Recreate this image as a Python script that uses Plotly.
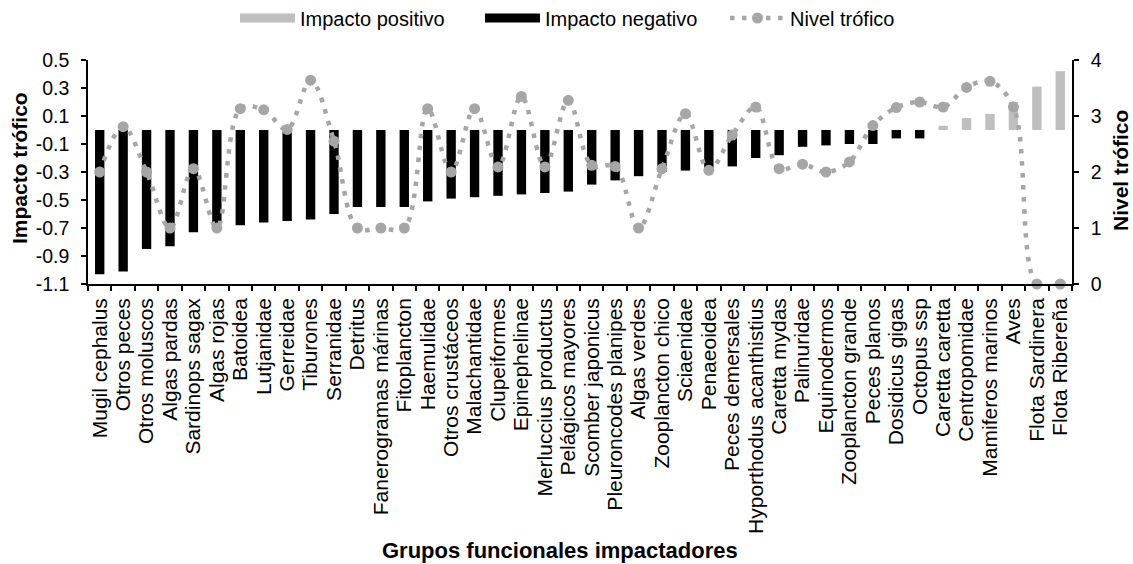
import plotly.graph_objects as go

categorias = [
    "Mugil cephalus", "Otros peces", "Otros moluscos", "Algas pardas", "Sardinops sagax",
    "Algas rojas", "Batoidea", "Lutjanidae", "Gerreidae", "Tiburones", "Serranidae",
    "Detritus", "Fanerogramas márinas", "Fitoplancton", "Haemulidae", "Otros crustáceos",
    "Malachantidae", "Clupeiformes", "Epinephelinae", "Merluccius productus",
    "Pelágicos mayores", "Scomber japonicus", "Pleuroncodes planipes", "Algas verdes",
    "Zooplancton chico", "Sciaenidae", "Penaeoidea", "Peces demersales",
    "Hyporthodus acanthistius", "Caretta mydas", "Palinuridae", "Equinodermos",
    "Zooplancton grande", "Peces planos", "Dosidicus gigas", "Octopus ssp",
    "Caretta caretta", "Centropomidae", "Mamiferos marinos", "Aves",
    "Flota Sardinera", "Flota Ribereña",
]

impacto_negativo = [
    -1.03, -1.01, -0.85, -0.83, -0.73, -0.67, -0.68, -0.66, -0.65, -0.64, -0.60,
    -0.55, -0.55, -0.55, -0.51, -0.49, -0.48, -0.47, -0.46, -0.45, -0.44,
    -0.39, -0.36, -0.33, -0.30, -0.29, -0.27, -0.26, -0.20, -0.18, -0.12,
    -0.11, -0.10, -0.10, -0.06, -0.06,
    None, None, None, None, None, None,
]

impacto_positivo = [None] * 36 + [0.03, 0.085, 0.115, 0.20, 0.31, 0.42]

nivel_trofico = [
    2.00, 2.81, 2.00, 1.00, 2.06, 1.00, 3.13, 3.11, 2.76, 3.64, 2.55,
    1.00, 1.00, 1.00, 3.13, 2.00, 3.13, 2.09, 3.35, 2.09, 3.28,
    2.12, 2.10, 1.00, 2.06, 3.04, 2.03, 2.66, 3.16, 2.06, 2.14,
    2.00, 2.18, 2.83, 3.15, 3.25, 3.16, 3.51, 3.62, 3.16, 0.00, 0.00,
]

ticks_izq = [-1.1, -0.9, -0.7, -0.5, -0.3, -0.1, 0.1, 0.3, 0.5]
ticks_izq_texto = ["-1.1", "-0.9", "-0.7", "-0.5", "-0.3", "-0.1", "0.1", "0.3", "0.5"]
ticks_der = [0, 1, 2, 3, 4]

FONT = "Liberation Sans, Arial, sans-serif"
GRIS_POS = "#BFBFBF"
GRIS_LINEA = "#A6A6A6"

fig = go.Figure()

fig.add_trace(go.Bar(x=categorias, y=impacto_negativo, marker_color="black",
                     marker_line_width=0, showlegend=False, name="Impacto negativo"))
fig.add_trace(go.Bar(x=categorias, y=impacto_positivo, marker_color=GRIS_POS,
                     marker_line_width=0, showlegend=False, name="Impacto positivo"))
fig.add_trace(go.Scatter(
    x=categorias, y=nivel_trofico, yaxis="y2", mode="lines+markers",
    line=dict(color=GRIS_LINEA, width=4.5, dash="4.5px,7.5px", shape="spline", smoothing=1),
    marker=dict(size=11, color=GRIS_LINEA), showlegend=False, name="Nivel trófico",
    cliponaxis=False,
))

# legend entries
fig.add_trace(go.Scatter(x=[None], y=[None], mode="lines", name="Impacto positivo",
                         line=dict(color=GRIS_POS, width=9)))
fig.add_trace(go.Scatter(x=[None], y=[None], mode="lines", name="Impacto negativo",
                         line=dict(color="black", width=9)))
fig.add_trace(go.Scatter(x=[None], y=[None], mode="lines+markers", name="Nivel trófico",
                         line=dict(color=GRIS_LINEA, width=4.5, dash="4.5px,7.5px"),
                         marker=dict(size=11, color=GRIS_LINEA)))

axis_common = dict(showline=True, linecolor="black", linewidth=1.5, ticks="outside",
                   ticklen=5, tickwidth=1.5, tickcolor="black", showgrid=False,
                   zeroline=False)

# plot area in pixels: x 88..1072, y 60..284
PW, PH = 984.0, 224.0

fig.update_layout(
    width=1133, height=564,
    margin=dict(l=88, r=61, t=60, b=280),
    paper_bgcolor="white", plot_bgcolor="white",
    barmode="overlay", bargap=0.6,
    font=dict(family=FONT, color="black", size=20),
    xaxis=dict(type="category", tickmode="array", tickvals=categorias,
               range=[-0.5, len(categorias) - 0.5], autorange=False,
               tickson="boundaries", tickangle=-90, ticklabelstandoff=4,
               tickfont=dict(size=21), **axis_common),
    yaxis=dict(range=[-1.1, 0.5], tickvals=ticks_izq, ticktext=ticks_izq_texto,
               tickfont=dict(size=19.5), ticklabelstandoff=8, **axis_common),
    yaxis2=dict(range=[0, 4], tickvals=ticks_der, overlaying="y", side="right",
                tickfont=dict(size=19.5), ticklabelstandoff=8, **axis_common),
    legend=dict(orientation="h", x=235 / 1133, xanchor="left", xref="container",
                y=1 - 18 / 564, yanchor="middle", yref="container",
                font=dict(size=20), itemwidth=55, entrywidth=175, tracegroupgap=0,
                bgcolor="rgba(0,0,0,0)"),
    annotations=[
        dict(text="<b>Impacto trófico</b>", xref="paper", yref="paper",
             x=(19 - 88) / PW, y=(284 - 168) / PH, xanchor="center", yanchor="middle",
             textangle=-90, showarrow=False, font=dict(size=21)),
        dict(text="<b>Nivel trófico</b>", xref="paper", yref="paper",
             x=(1120 - 88) / PW, y=(284 - 171) / PH, xanchor="center", yanchor="middle",
             textangle=-90, showarrow=False, font=dict(size=21)),
        dict(text="<b>Grupos funcionales impactadores</b>", xref="paper", yref="paper",
             x=(560 - 88) / PW, y=(284 - 550) / PH, xanchor="center", yanchor="middle",
             showarrow=False, font=dict(size=22)),
    ],
)

fig.write_html("out.html", config={"displayModeBar": False},
               post_script="document.body.style.margin='0';"
               "document.body.style.overflow='hidden';")
